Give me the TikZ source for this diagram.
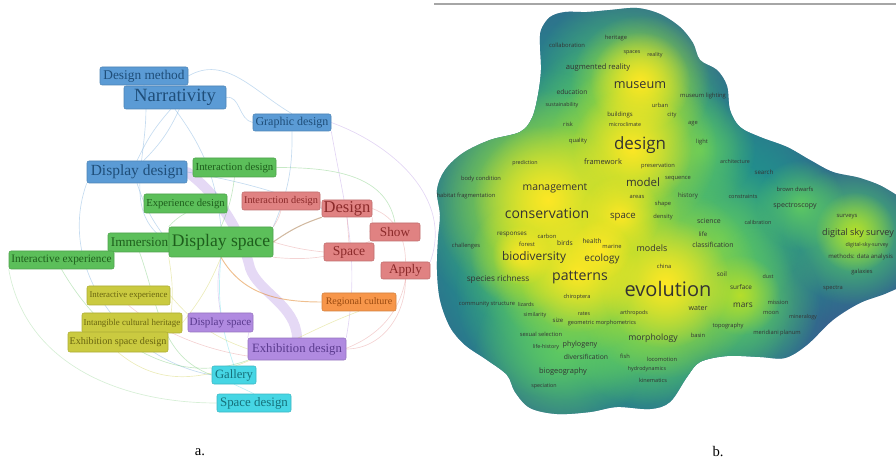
\documentclass[tikz,border=0pt]{standalone}
\usepackage{fontspec}
\setmainfont{Liberation Serif}
\newfontfamily\mapfont{Open Sans}
\usetikzlibrary{backgrounds,fadings}

% cluster colours (fill / text)
\definecolor{nblue}{HTML}{5B9BD5}
\definecolor{nbluetx}{HTML}{1F4E79}
\definecolor{ngreen}{HTML}{5CBF5A}
\definecolor{ngreentx}{HTML}{1E5E1C}
\definecolor{nred}{HTML}{E08282}
\definecolor{nredtx}{HTML}{8B2A2A}
\definecolor{norange}{HTML}{F7964A}
\definecolor{norangetx}{HTML}{9A4A10}
\definecolor{nyellow}{HTML}{CACA40}
\definecolor{nyellowtx}{HTML}{6A6610}
\definecolor{npurple}{HTML}{B08AE0}
\definecolor{npurpletx}{HTML}{5A3A8E}
\definecolor{ncyan}{HTML}{46D6E4}
\definecolor{ncyantx}{HTML}{16707A}
% density colours
\definecolor{vdark}{HTML}{3A5B8F}
\definecolor{vteal}{HTML}{21918C}
\definecolor{vgreen}{HTML}{5EC962}
\definecolor{vlime}{HTML}{B5DE2B}
\definecolor{vyellow}{HTML}{FDE725}

\tikzfading[name=hotspot, inner color=transparent!0, outer color=transparent!100]

\tikzset{
  kw/.style n args={4}{draw=#1!85!black, fill=#1, text=#2, rounded corners=1.5pt,
    inner sep=0pt, minimum width=#3*0.75pt, minimum height=#4*0.75pt},
  fs/.style={font=\fontsize{#1}{#1}\selectfont},
  lnk/.style={draw=#1, line width=0.5pt, opacity=0.35},
  band/.style={draw=npurple!55!white, line width=7.5pt, opacity=0.6, line cap=round},
  word/.style={font=\mapfont\fontsize{#1}{#1}\selectfont, text=black!80, inner sep=0pt},
}

\begin{document}
\begin{tikzpicture}[x=0.75pt, y=-0.75pt]
\useasboundingbox (0,0) rectangle (896,463);

% a. keyword network
\node[kw={nblue}{nbluetx}{88}{18}, fs=10] (dmeth) at (144,76) {Design method};
\node[kw={nblue}{nbluetx}{102}{23}, fs=14] (narr) at (175,97.5) {Narrativity};
\node[kw={nblue}{nbluetx}{78}{17}, fs=9] (graph) at (292,122.5) {Graphic design};
\node[kw={nblue}{nbluetx}{100}{22}, fs=11.6] (ddes) at (137,172) {Display design};
\node[kw={ngreen}{ngreentx}{83}{19}, fs=8.1] (gint) at (234.5,167.5) {Interaction design};
\node[kw={ngreen}{ngreentx}{83}{19}, fs=8] (expd) at (185.5,203.5) {Experience design};
\node[kw={ngreen}{ngreentx}{63}{19}, fs=9.9] (imm) at (139.5,242.5) {Immersion};
\node[kw={ngreen}{ngreentx}{104}{30}, fs=13.2] (gdsp) at (221,242) {Display space};
\node[kw={ngreen}{ngreentx}{105}{18}, fs=8.5] (giexp) at (61.5,260) {Interactive experience};
\node[kw={nred}{nredtx}{78}{18}, fs=7.7] (rint) at (281,201) {Interaction design};
\node[kw={nred}{nredtx}{50}{17}, fs=12.4] (rdes) at (347,208.5) {Design};
\node[kw={nred}{nredtx}{50}{18}, fs=9.9] (rshow) at (395,232) {Show};
\node[kw={nred}{nredtx}{50}{18}, fs=10.2] (rspace) at (349,252) {Space};
\node[kw={nred}{nredtx}{49}{17}, fs=9.9] (rapply) at (405.5,270.5) {Apply};
\node[kw={norange}{norangetx}{74}{18}, fs=7.5] (regc) at (359,302) {Regional culture};
\node[kw={nyellow}{nyellowtx}{83}{19}, fs=6.6] (yiexp) at (128.5,295.5) {Interactive experience};
\node[kw={nyellow}{nyellowtx}{100}{20}, fs=6.7] (yich) at (132,323) {Intangible cultural heritage};
\node[kw={nyellow}{nyellowtx}{100}{20}, fs=7.6] (yesd) at (118,342) {Exhibition space design};
\node[kw={npurple}{npurpletx}{65}{19}, fs=8.3] (pdsp) at (220.5,322.5) {Display space};
\node[kw={npurple}{npurpletx}{98}{22}, fs=9.5] (pexd) at (297,349) {Exhibition design};
\node[kw={ncyan}{ncyantx}{44}{18}, fs=9.5] (cgal) at (234,375) {Gallery};
\node[kw={ncyan}{ncyantx}{74}{18}, fs=9.7] (csd) at (254,403) {Space design};

\begin{pgfonlayer}{background}
  % strongest link
  \draw[band] (ddes.east) .. controls (222,198) and (242,235) .. (250,268)
    .. controls (258,292) and (296,305) .. (pexd.north);
  % blue cluster
  \draw[lnk=nblue] (narr.250) to[bend right=8] (ddes.north);
  \draw[lnk=nblue] (narr.290) to[bend left=10] (ddes.60);
  \draw[lnk=nblue] (narr.south) to[bend left=15] (gdsp.north);
  \draw[lnk=nblue] (narr.east) to[out=10, in=170] (graph.west);
  \draw[lnk=nblue] (dmeth.south) to[out=-80, in=150] (gdsp.west);
  \draw[lnk=nblue] (dmeth.east) to[out=30, in=150] (graph.north);
  \draw[lnk=nblue] (graph.south) to[bend left=12] (gdsp.north east);
  \draw[lnk=nblue] (ddes.east) to[out=-10, in=160] (rdes.west);
  \draw[lnk=nblue] (ddes.south) to[bend right=10] (gdsp.west);
  \draw[lnk=nblue] (ddes.south west) to[out=-110, in=170] (cgal.west);
  \draw[lnk=npurple] (graph.south east) to[out=-80, in=80] (pexd.north east);
  \draw[lnk=npurple] (graph.east) to[out=-20, in=70] (rapply.north east);
  % green cluster
  \draw[lnk=ngreen] (gint.south) to[bend left=8] (gdsp.north);
  \draw[lnk=ngreen] (expd.south) to[bend right=10] (gdsp.north west);
  \draw[lnk=ngreen] (imm.east) -- (gdsp.west);
  \draw[lnk=ngreen] (giexp.north east) to[out=20, in=200] (gdsp.west);
  \draw[lnk=ngreen] (imm.south) to[out=-70, in=160] (cgal.west);
  \draw[lnk=ngreen] (giexp.south) to[out=-60, in=200] (pexd.south west);
  \draw[lnk=ngreen, opacity=0.25] (giexp.south west) to[out=-80, in=180] (csd.west);
  \draw[lnk=ngreen] (gint.east) to[out=0, in=100] (rshow.north);
  % red cluster
  \draw[lnk=nred] (rint.east) -- (rdes.west);
  \draw[lnk=nred] (rdes.south east) to[bend left=10] (rshow.west);
  \draw[lnk=nred] (rdes.south) -- (rspace.north);
  \draw[lnk=nred] (rdes.east) to[out=-20, in=90] (rapply.north);
  \draw[draw=brown!70!gray, line width=0.8pt, opacity=0.55] (gdsp.east) to[bend left=8] (rdes.south west);
  \draw[lnk=nred] (rshow.south west) to[bend left=15] (gdsp.south east);
  \draw[lnk=nred] (rspace.west) to[bend left=5] (gdsp.east);
  \draw[lnk=nred] (rapply.south) to[out=-100, in=-40] (yiexp.south);
  \draw[lnk=nred] (rapply.south) to[out=-90, in=0] (pexd.east);
  \draw[lnk=nred] (rint.south) to[bend left=10] (gdsp.north east);
  % orange, yellow, purple, cyan
  \draw[draw=brown!50!orange, line width=0.7pt, opacity=0.5] (gdsp.south) to[out=-60, in=180] (regc.west);
  \draw[lnk=nyellow] (yesd.north east) to[bend right=10] (gdsp.south west);
  \draw[lnk=nyellow] (yich.east) to[bend right=8] (gdsp.south);
  \draw[lnk=nyellow] (yiexp.east) to[bend right=15] (pexd.west);
  \draw[lnk=nyellow] (yesd.south) to[out=-40, in=200] (regc.south);
  \draw[lnk=npurple] (pdsp.east) to[bend right=10] (pexd.north west);
  \draw[lnk=npurple] (pdsp.north) to[bend left=10] (gdsp.south);
  \draw[lnk=ncyan] (cgal.south) -- (csd.north);
  \draw[lnk=ncyan] (gdsp.south) to[bend right=12] (cgal.north);
\end{pgfonlayer}

\node[fs=11] (cap-a) at (200,452) {a.};

% b. density map
\draw[gray!70, line width=0.8pt] (434,4) -- (896,4);
\begin{scope}
  \clip plot[smooth cycle, tension=0.55] coordinates {
    (541,30) (550,17) (565,12) (587,12) (610,10) (637,8) (660,14) (680,27)
    (693,43) (700,60) (717,70) (727,86) (730,110) (740,127) (760,137) (787,147)
    (810,160) (833,172) (860,178) (885,188) (905,205) (912,245) (903,282)
    (887,293) (860,303) (833,320) (807,345) (785,358) (760,357) (727,356)
    (700,362) (687,377) (670,402) (650,409) (617,407) (590,412) (557,414)
    (530,408) (515,392) (507,375) (487,360) (465,345) (450,327) (440,300)
    (437,270) (438,240) (440,215) (437,190) (445,170) (463,153) (490,140)
    (520,132) (532,118) (538,95) (541,70) (540,45)};
  \fill[vdark] (420,0) rectangle (910,430);
  \foreach \x/\y/\r in {600/100/160, 560/200/200, 640/250/200, 580/330/160,
      720/180/130, 700/310/150, 855/238/90, 760/200/80, 520/250/150}
    \fill[vteal, path fading=hotspot] (\x,\y) circle (\r);
  \foreach \x/\y/\r in {630/90/100, 620/160/120, 545/200/130, 600/250/130,
      565/290/110, 665/290/130, 560/350/85, 720/240/80, 745/300/75,
      852/235/70, 700/150/55, 640/330/75, 800/205/45}
    \fill[vgreen, path fading=hotspot] (\x,\y) circle (\r);
  \foreach \x/\y/\r in {640/85/70, 632/150/85, 545/200/110, 620/215/60,
      578/270/85, 665/283/95, 525/255/55, 600/250/55, 855/232/40, 740/295/40}
    \fill[vlime, path fading=hotspot] (\x,\y) circle (\r);
  \foreach \x/\y/\r in {640/82/50, 632/148/60, 548/200/75, 620/215/40,
      578/272/60, 665/283/65, 522/255/30, 600/250/30}
    \fill[vyellow, path fading=hotspot] (\x,\y) circle (\r);
\end{scope}

\foreach \x/\y/\s/\t [count=\i] in {
    567/45/4.4/collaboration, 616/38/4.3/heritage, 632/53/4/spaces,
    655/55/4/reality, 598/68/5.7/augmented reality, 640/85/9.5/museum,
    572/92/5/education, 562/105/4/sustainability, 660/105/4.3/urban,
    703/96/4.4/museum lighting, 620/115/4.5/buildings, 672/115/4.3/city,
    625/125/4/microclimate, 568/124/4.3/risk, 693/124/4.3/age,
    578/141/4.3/quality, 702/142/4.3/light, 640/145/12.7/design,
    525/163/4/prediction, 603/162/5.6/framework, 658/166/4.3/preservation,
    735/162/4/architecture, 764/172/4.6/search, 481/179/4.3/body condition,
    555/188/7.8/management, 643/182/8.6/model, 678/179/4.3/sequence,
    795/189/4.3/brown dwarfs, 466/196/4.3/habitat fragmentation,
    637/197/4.3/areas, 688/196/4.6/history, 743/196/4.2/constraints,
    663/204/4.3/shape, 795/206/5.3/spectroscopy, 547/213/10.5/conservation,
    623/217/7.2/space, 663/217/4.3/density, 709/221/5.2/science,
    758/222/4.1/calibration, 847/217/4.4/surveys, 703/234/4.6/life,
    858/233/6.8/digital sky survey, 512/235/4.7/responses, 547/236/4.3/carbon,
    527/244/4.3/forest, 565/243/5/birds, 592/241/4.8/health, 612/246/4.3/marine,
    466/246/4.3/challenges, 652/248/6.7/models, 713/245/5.2/classification,
    867/245/4/digital-sky-survey, 534/257/8.9/biodiversity, 602/259/7.4/ecology,
    664/266/4.3/china, 722/274/4.8/soil, 768/277/4/dust, 862/272/4.3/galaxies,
    498/279/6.2/species richness, 580/278/10.6/patterns, 668/289/15/evolution,
    741/287/4.8/surface, 833/288/4.3/spectra, 577/297/4.2/chiroptera,
    743/305/6.2/mars, 698/308/5.3/water, 778/302/4.3/mission,
    487/304/4.3/community structure, 526/304/4/lizards, 535/315/4/similarity,
    584/314/4/rates, 634/313/4/arthropods, 771/313/4.3/moon,
    803/317/4/mineralogy, 558/320/4.5/size, 602/323/4.2/geometric morphometrics,
    728/326/4.3/topography, 777/333/4.3/meridiani planum, 698/335/4.3/basin,
    541/334/4.3/sexual selection, 653/338/6.5/morphology, 546/347/4/life-history,
    580/345/5.4/phylogeny, 586/357/5.1/diversification, 625/356/4.3/fish,
    662/359/4.3/locomotion, 563/372/5.6/biogeography, 647/369/4/hydrodynamics,
    653/380/4.2/kinematics, 544/386/4/speciation}
  \node[word=\s] (w\i) at (\x,\y) {\t};
\node[word=4.5, anchor=west] (wmeth) at (828,257) {methods: data analysis};

\node[fs=11] (cap-b) at (718,452) {b.};
\end{tikzpicture}
\end{document}
